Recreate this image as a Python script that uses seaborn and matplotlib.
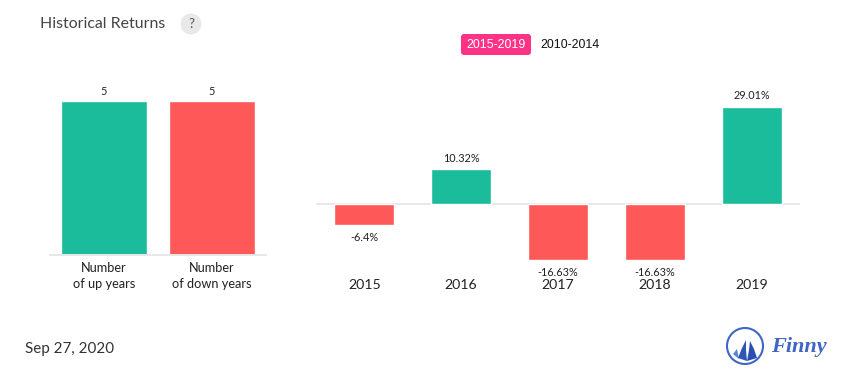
import pandas as pd
import seaborn as sns
import matplotlib.pyplot as plt
from matplotlib.patches import Circle, FancyBboxPatch, Polygon

count_labels = ['Number\nof up years', 'Number\nof down years']
count_values = [5, 5]
years = ['2015', '2016', '2017', '2018', '2019']
returns = [-6.4, 10.32, -16.63, -16.63, 29.01]
return_labels = ['-6.4%', '10.32%', '-16.63%', '-16.63%', '29.01%']

GREEN = '#1abc9c'
RED = '#ff5858'
GRID = '#e8e8e8'
W, H = 855, 382

sns.set_theme(style='white')
plt.rcParams['font.family'] = ['Lato', 'DejaVu Sans']


# converte pixels da imagem (origem no topo) para coordenadas da figura
def caixa(x0, y0, x1, y1):
    return [x0 / W, 1 - y1 / H, (x1 - x0) / W, (y1 - y0) / H]


fig = plt.figure(figsize=(W / 100, H / 100), dpi=100)

# GRAFICO DA ESQUERDA
ax1 = fig.add_axes(caixa(50, 100.8, 266, 255))
contagem = pd.DataFrame({'tipo': count_labels, 'valor': count_values})
sns.barplot(data=contagem, x='tipo', y='valor', hue='tipo', palette=[GREEN, RED],
            width=0.79, legend=False, saturation=1, ax=ax1)
ax1.set_ylim(0, 5)
ax1.set_xlim(-0.5, 1.5)
ax1.set_xlabel('')
ax1.set_ylabel('')
ax1.set_yticks([])
ax1.tick_params(axis='x', length=0, pad=5, labelsize=9.2, labelcolor='#222222')
for rotulo in ax1.get_xticklabels():
    rotulo.set_linespacing(1.38)
sns.despine(ax=ax1, left=True)
ax1.spines['bottom'].set_color(GRID)
ax1.spines['bottom'].set_linewidth(1.4)
for i, v in enumerate(count_values):
    ax1.annotate(str(v), (i, v), xytext=(0, 2.4), textcoords='offset points',
                 ha='center', va='bottom', fontsize=7.8, color='#222222', annotation_clip=False)

# GRAFICO DA DIREITA
escala = 97 / 29.01  # pixels por ponto percentual
ax2 = fig.add_axes(caixa(316, 100, 800, 268))
retornos = pd.DataFrame({'ano': years, 'retorno': returns,
                         'sinal': ['up' if r > 0 else 'down' for r in returns]})
sns.barplot(data=retornos, x='ano', y='retorno', hue='sinal',
            palette={'up': GREEN, 'down': RED}, dodge=False, width=0.62,
            legend=False, saturation=1, ax=ax2)
ax2.set_ylim(-64 / escala, 104 / escala)
ax2.set_xlim(-0.5, 4.5)
ax2.set_xlabel('')
ax2.set_ylabel('')
ax2.set_yticks([])
ax2.tick_params(axis='x', length=0, pad=8, labelsize=10.2, labelcolor='#222222')
sns.despine(ax=ax2, left=True, bottom=True)
ax2.axhline(0, xmin=0.002, color=GRID, lw=1.4, zorder=0)
for i, (r, txt) in enumerate(zip(returns, return_labels)):
    desloc = 4 if r > 0 else -5
    ax2.annotate(txt, (i, r), xytext=(0, desloc), textcoords='offset points', ha='center',
                 va='bottom' if r > 0 else 'top', fontsize=7.8, color='#222222',
                 annotation_clip=False)

# CABECALHO
fig.text(40 / W, 1 - 23.5 / H, 'Historical Returns', fontsize=11.4, color='#444444', va='center')
fig.add_artist(Circle((191, H - 24), 10.5, transform=None, fc='#e9e9e9', ec='none'))
fig.text(191 / W, 1 - 24 / H, '?', fontsize=9.5, color='#555555', ha='center', va='center')

# BOTOES DO PERIODO
fig.add_artist(FancyBboxPatch((463, H - 53), 66, 17, transform=None, fc='#ff3385', ec='#ff3385',
                              boxstyle='round,pad=2,rounding_size=3', lw=0))
fig.text(496 / W, 1 - 45 / H, '2015-2019', fontsize=8.9, color='white', ha='center',
         va='center', family='Liberation Sans')
fig.text(570 / W, 1 - 45 / H, '2010-2014', fontsize=8.9, color='#111111', ha='center', va='center',
         family='Liberation Sans')

# RODAPE
fig.text(25 / W, 1 - 348.5 / H, 'Sep 27, 2020', fontsize=10.9, color='#333333', va='center')

# LOGO
AZUL = '#3f66c4'
fig.add_artist(Circle((745, H - 346), 18, transform=None, fc='white', ec=AZUL, lw=1.5))
velas = [([(733, 354), (737, 349), (738, 354), (739, 359)], '#5f82d6'),
         ([(738, 358), (742, 348), (746, 340), (746, 350), (747, 361)], '#2f55b5'),
         ([(747, 361), (749, 350), (750, 341), (754, 349), (757, 358)], '#2a4fb0')]
for pts, cor in velas:
    fig.add_artist(Polygon([(x, H - y) for x, y in pts], transform=None, fc=cor, ec='none'))
fig.text(771 / W, 1 - 347 / H, 'Finny', fontsize=16, color=AZUL, style='italic', weight='bold',
         va='center', family='Liberation Serif')

fig.savefig('out.png', dpi=100)
